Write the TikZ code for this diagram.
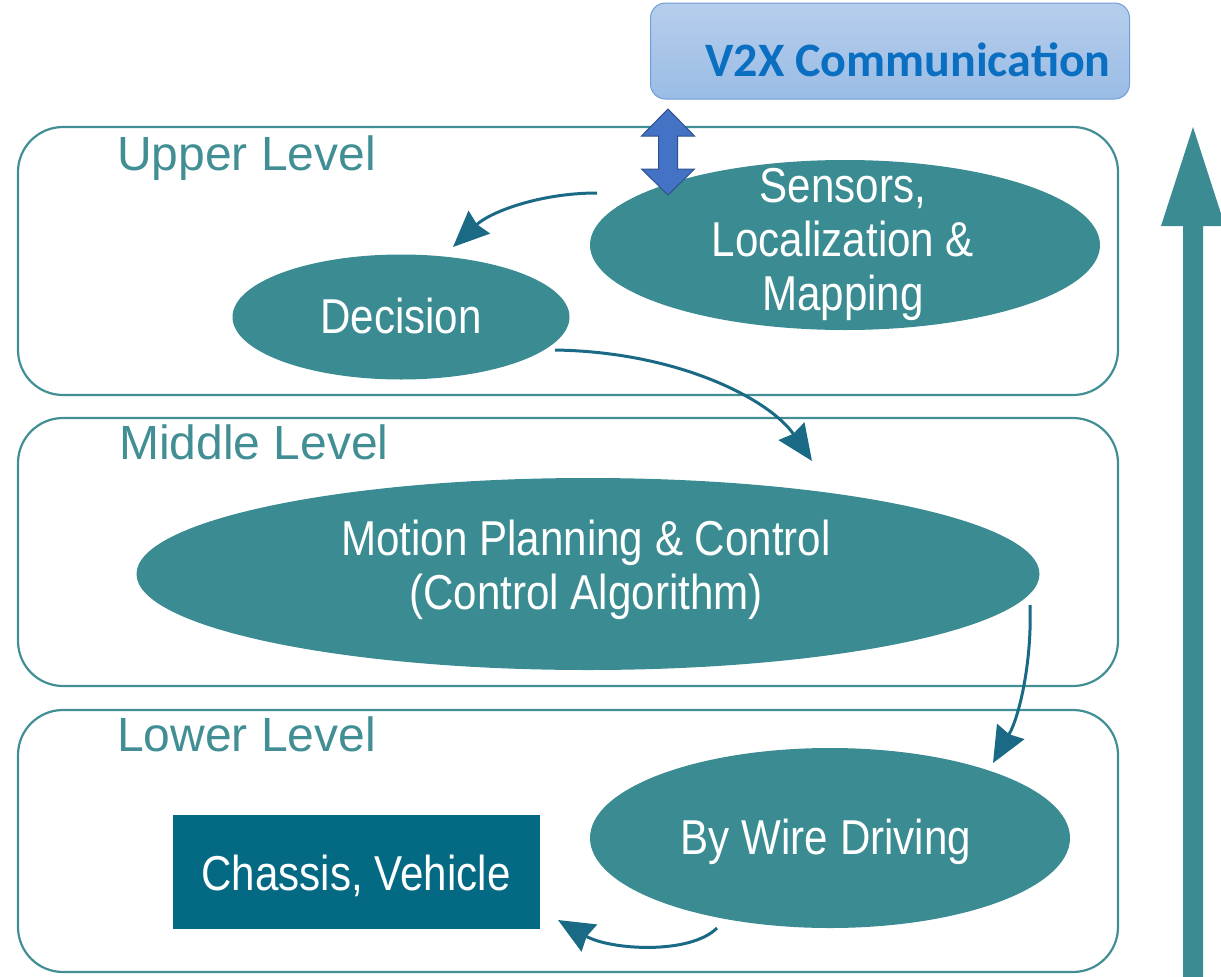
\documentclass[tikz,border=0pt]{standalone}
\usepackage{fontspec}
\setmainfont[FakeStretch=0.86]{Liberation Sans}
\newfontfamily\plainfont{Liberation Sans}
\newfontfamily\calfont{Carlito}
\usetikzlibrary{arrows.meta,calc,shapes.geometric}
\definecolor{teal1}{HTML}{3B8C92}
\definecolor{tealline}{HTML}{418F94}
\definecolor{chasfill}{HTML}{046A84}
\definecolor{arrowc}{HTML}{1A6A85}
\definecolor{vtop}{HTML}{B6CEEC}
\definecolor{vbot}{HTML}{9ABCE5}
\definecolor{vborder}{HTML}{6E9FD8}
\definecolor{vtext}{HTML}{0B6FC1}
\definecolor{dblfill}{HTML}{4472C4}
\definecolor{dbldraw}{HTML}{2F528F}
\begin{document}
\begin{tikzpicture}[x=1pt,y=-1pt,
  bigfont/.style={font=\fontsize{49}{54}\selectfont},
  levelbox/.style={draw=tealline,line width=2.2pt,rounded corners=45pt,minimum width=1100pt,inner sep=0pt},
  levellbl/.style={font=\plainfont\fontsize{48}{54}\selectfont,text=tealline,anchor=base west,inner sep=0pt},
  blob/.style={ellipse,fill=teal1,inner sep=0pt},
  blobtxt/.style={bigfont,text=white,align=center,inner sep=0pt},
  conn/.style={draw=arrowc,line width=3pt,-{Stealth[length=36pt,width=31pt,inset=3pt]}}
]
\useasboundingbox (0,0) rectangle (1221,977);
% level boxes
\node[levelbox,minimum height=268pt] (upper) at (568,261) {};
\node[levelbox,minimum height=268pt] (middle) at (568,552) {};
\node[levelbox,minimum height=262pt] (lower) at (568,841) {};
\node[levellbl] (upperl) at (117,170) {Upper Level};
\node[levellbl] (middlel) at (119,459) {Middle Level};
\node[levellbl] (lowerl) at (117,751) {Lower Level};
% ellipses
\node[blob,minimum width=510pt,minimum height=170pt] (sens) at (845,245) {};
\node[blobtxt] (senst) at (843,244) {Sensors,\\Localization \&\\Mapping};
\node[blob,minimum width=337pt,minimum height=125pt] (dec) at (401,317) {};
\node[blobtxt] (dect) at (401,316) {Decision};
\node[blob,minimum width=903pt,minimum height=192pt] (mot) at (588,574) {};
\node[blobtxt] (mott) at (586,570) {Motion Planning \& Control\\(Control Algorithm)};
\node[blob,minimum width=480pt,minimum height=180pt] (wire) at (830,838) {};
\node[blobtxt] (wiret) at (826,842) {By Wire Driving};
\node[fill=chasfill,minimum width=367pt,minimum height=114pt,inner sep=0pt] (chas) at (356,872) {};
\node[blobtxt] (chast) at (356,876) {Chassis, Vehicle};
% V2X
\node[rounded corners=15pt,top color=vtop,bottom color=vbot,draw=vborder,line width=1pt,minimum width=479pt,minimum height=96pt] (v2x) at (890,51) {};
\node[text=vtext,font=\calfont\bfseries\fontsize{48}{52}\selectfont,inner sep=0pt] (v2xt) at (908,60) {V2X Communication};
% double arrow between V2X and sensors
\coordinate (dbl) at (668,152);
\draw[fill=dblfill,draw=dbldraw,line width=1pt]
  ($(dbl)+(0,-43)$) -- ($(dbl)+(26.5,-16)$) -- ($(dbl)+(9.5,-16)$) -- ($(dbl)+(9.5,17)$) --
  ($(dbl)+(26.5,17)$) -- ($(dbl)+(0,43)$) -- ($(dbl)+(-26.5,17)$) -- ($(dbl)+(-9.5,17)$) --
  ($(dbl)+(-9.5,-16)$) -- ($(dbl)+(-26.5,-16)$) -- cycle;
% connectors
\draw[conn] ($(sens.center)+(-248,-52)$) .. controls ($(sens.center)+(-305,-52)$) and ($(dec.center)+(89,-105)$) .. ($(dec.center)+(52,-70)$);
\draw[conn] ($(dec.center)+(154,33)$) .. controls ($(dec.center)+(279,35)$) and ($(mot.center)+(182,-174)$) .. ($(mot.center)+(224,-113)$);
\draw[conn] ($(mot.center)+(442,31)$) .. controls ($(mot.center)+(444,86)$) and ($(wire.center)+(190,-123)$) .. ($(wire.center)+(163,-75)$);
\draw[conn] ($(wire.center)+(-113,90)$) .. controls ($(wire.center)+(-140,117)$) and ($(chas.center)+(254,78)$) .. ($(chas.center)+(202,48)$);
% big up arrow
\coordinate (upa) at (1193,127);
\fill[teal1] (upa) -- ($(upa)+(32,99)$) -- ($(upa)+(10,99)$) -- ($(upa)+(10,860)$) -- ($(upa)+(-10,860)$) -- ($(upa)+(-10,99)$) -- ($(upa)+(-32,99)$) -- cycle;
\end{tikzpicture}
\end{document}
